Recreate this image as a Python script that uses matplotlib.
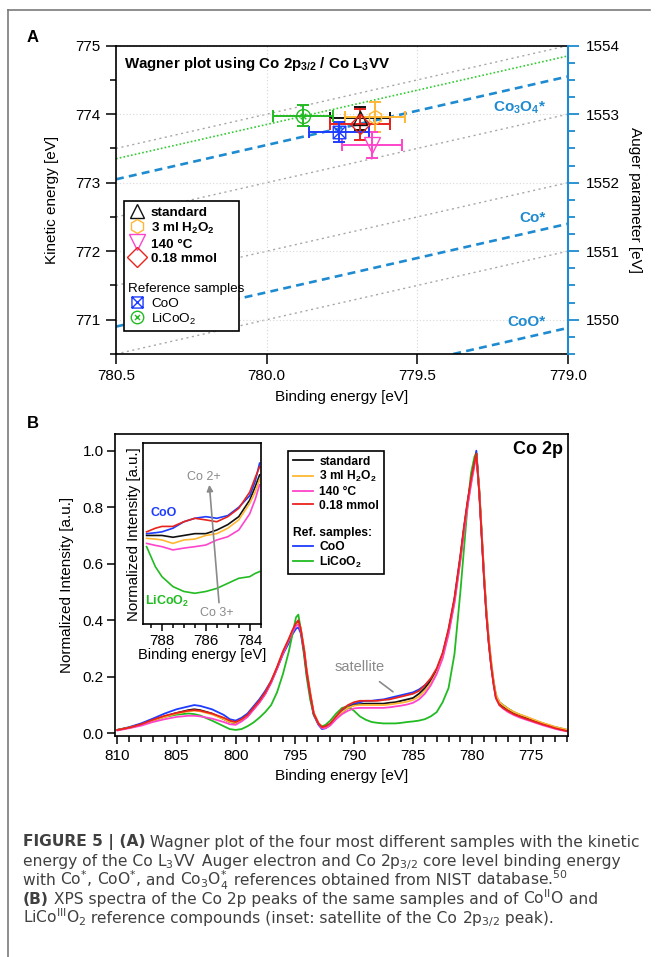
import re
import matplotlib
matplotlib.use("Agg")
import matplotlib.pyplot as plt
from matplotlib.lines import Line2D
from matplotlib.path import Path
from matplotlib.ticker import MultipleLocator

plt.rcParams['font.family'] = ['Liberation Sans', 'DejaVu Sans']
plt.rcParams['mathtext.default'] = 'regular'

W, H = 657, 957

# ---------------- Panel A data (Wagner plot) ----------------
samples = ['standard', '3 ml H$_2$O$_2$', '140 °C', '0.18 mmol']
refs = ['CoO', 'LiCoO$_2$']
pt_be = [779.69, 779.64, 779.65, 779.69, 779.76, 779.88]
pt_ke = [773.94, 773.96, 773.55, 773.85, 773.74, 773.98]
pt_xerr = [0.10, 0.10, 0.10, 0.10, 0.10, 0.10]
pt_yerr = [0.17, 0.22, 0.19, 0.22, 0.14, 0.15]
pt_colors = ['#111111', '#FFB733', '#FF44CC', '#E8231C', '#1E3CFF', '#22BB22']

# constant Auger-parameter lines: endpoints (BE, KE)
line_be = [780.5, 779.0]
gray_ke = [[770.5, 772.0], [771.5, 773.0], [772.5, 774.0], [773.5, 775.0]]
licoo2_ke = [773.35, 774.85]
co3o4_ke = [773.05, 774.55]
co_ke = [770.90, 772.40]
coo_be = [779.38, 779.0]
coo_ke = [770.50, 770.88]
ref_labels = ['Co$_3$O$_4$*', 'Co*', 'CoO*']
ref_label_ke = [774.10, 772.48, 770.96]

# ---------------- Panel B data (Co 2p spectra) ----------------
be = [810, 809, 808, 807, 806, 805, 804,
      803.5, 803, 802, 801, 800.5, 800,
      799.5, 799, 798.5, 798, 797.5, 797,
      796.5, 796, 795.5, 795.2, 794.9, 794.7,
      794.5, 794.2, 794, 793.7, 793.4, 793,
      792.7, 792.4, 792, 791.5, 791, 790.5,
      790, 789.5, 789, 788.5, 788, 787.5,
      787, 786.5, 786, 785.5, 785, 784.5,
      784, 783.5, 783, 782.5, 782, 781.5,
      781, 780.7, 780.4, 780.1, 779.8, 779.65,
      779.4, 779.2, 779, 778.8, 778.6, 778.4,
      778.2, 778, 777.7, 777.4, 777, 776.5,
      776, 775.5, 775, 774.5, 774, 773.5,
      773, 772.5, 772]
i_standard = [0.012, 0.02, 0.03, 0.045, 0.06, 0.072, 0.082,
              0.085, 0.082, 0.07, 0.05, 0.04, 0.035,
              0.045, 0.06, 0.085, 0.11, 0.14, 0.18,
              0.23, 0.285, 0.33, 0.36, 0.385, 0.395,
              0.37, 0.29, 0.22, 0.14, 0.07, 0.035,
              0.02, 0.02, 0.03, 0.055, 0.075, 0.09,
              0.1, 0.103, 0.105, 0.105, 0.105, 0.105,
              0.108, 0.11, 0.115, 0.12, 0.125, 0.14,
              0.16, 0.185, 0.22, 0.275, 0.36, 0.47,
              0.62, 0.72, 0.81, 0.89, 0.96, 0.99,
              0.85, 0.7, 0.55, 0.42, 0.32, 0.24,
              0.18, 0.13, 0.105, 0.095, 0.082, 0.07,
              0.062, 0.055, 0.048, 0.04, 0.033, 0.026,
              0.02, 0.015, 0.01]
i_h2o2 = [0.012, 0.02, 0.03, 0.045, 0.058, 0.07, 0.078,
          0.08, 0.078, 0.067, 0.05, 0.04, 0.036,
          0.046, 0.062, 0.087, 0.112, 0.142, 0.182,
          0.232, 0.287, 0.332, 0.362, 0.385, 0.39,
          0.375, 0.3, 0.23, 0.15, 0.075, 0.037,
          0.022, 0.022, 0.032, 0.055, 0.075, 0.09,
          0.098, 0.1, 0.1, 0.1, 0.1, 0.1,
          0.102, 0.105, 0.108, 0.112, 0.118, 0.13,
          0.15, 0.178, 0.215, 0.27, 0.355, 0.465,
          0.615, 0.715, 0.805, 0.885, 0.955, 0.985,
          0.865, 0.72, 0.57, 0.44, 0.34, 0.26,
          0.19, 0.14, 0.11, 0.1, 0.088, 0.076,
          0.067, 0.06, 0.052, 0.044, 0.036, 0.03,
          0.023, 0.018, 0.013]
i_140 = [0.01, 0.018, 0.027, 0.04, 0.05, 0.058, 0.062,
         0.062, 0.06, 0.052, 0.04, 0.032, 0.03,
         0.042, 0.058, 0.083, 0.108, 0.138, 0.178,
         0.228, 0.282, 0.328, 0.358, 0.38, 0.385,
         0.365, 0.29, 0.22, 0.14, 0.07, 0.033,
         0.018, 0.018, 0.028, 0.05, 0.068, 0.08,
         0.088, 0.09, 0.09, 0.09, 0.09, 0.09,
         0.092, 0.095, 0.098, 0.102, 0.108, 0.12,
         0.14, 0.17, 0.21, 0.265, 0.35, 0.46,
         0.61, 0.71, 0.8, 0.88, 0.95, 0.985,
         0.85, 0.7, 0.55, 0.42, 0.32, 0.24,
         0.175, 0.125, 0.1, 0.088, 0.076, 0.065,
         0.056, 0.049, 0.042, 0.035, 0.028, 0.022,
         0.016, 0.011, 0.007]
i_018 = [0.012, 0.02, 0.032, 0.048, 0.062, 0.072, 0.08,
         0.082, 0.08, 0.07, 0.055, 0.045, 0.04,
         0.05, 0.065, 0.09, 0.115, 0.145, 0.185,
         0.235, 0.29, 0.335, 0.365, 0.39, 0.4,
         0.37, 0.29, 0.22, 0.14, 0.07, 0.035,
         0.022, 0.025, 0.035, 0.06, 0.085, 0.1,
         0.11, 0.115, 0.115, 0.115, 0.115, 0.118,
         0.12, 0.125, 0.13, 0.135, 0.14, 0.15,
         0.17, 0.195, 0.23, 0.285, 0.37, 0.48,
         0.63, 0.73, 0.82, 0.9, 0.96, 0.99,
         0.85, 0.7, 0.55, 0.42, 0.32, 0.24,
         0.175, 0.125, 0.1, 0.09, 0.08, 0.068,
         0.06, 0.052, 0.045, 0.038, 0.031, 0.025,
         0.018, 0.013, 0.008]
i_coo = [0.012, 0.022, 0.035, 0.052, 0.07, 0.085, 0.095,
         0.1, 0.097, 0.085, 0.065, 0.05, 0.045,
         0.055, 0.07, 0.095, 0.12, 0.15, 0.185,
         0.23, 0.28, 0.32, 0.35, 0.37, 0.375,
         0.355, 0.28, 0.21, 0.13, 0.065, 0.03,
         0.015, 0.018, 0.03, 0.055, 0.08, 0.095,
         0.105, 0.11, 0.115, 0.115, 0.118, 0.12,
         0.125, 0.13, 0.135, 0.14, 0.145, 0.155,
         0.17, 0.19, 0.225, 0.28, 0.365, 0.475,
         0.625, 0.725, 0.815, 0.895, 0.965, 1.0,
         0.86, 0.71, 0.56, 0.43, 0.33, 0.25,
         0.185, 0.135, 0.11, 0.1, 0.088, 0.075,
         0.066, 0.058, 0.05, 0.042, 0.035, 0.028,
         0.022, 0.017, 0.012]
i_licoo2 = [0.012, 0.02, 0.03, 0.045, 0.058, 0.066, 0.07,
            0.068, 0.063, 0.045, 0.025, 0.015, 0.012,
            0.015, 0.025, 0.038, 0.055, 0.075, 0.1,
            0.145, 0.21, 0.29, 0.35, 0.41, 0.42,
            0.37, 0.27, 0.2, 0.12, 0.065, 0.035,
            0.025, 0.03, 0.045, 0.07, 0.09, 0.095,
            0.08, 0.06, 0.048, 0.04, 0.037, 0.035,
            0.035, 0.035, 0.037, 0.04, 0.042, 0.045,
            0.05, 0.06, 0.075, 0.11, 0.16, 0.28,
            0.5, 0.65, 0.8, 0.92, 0.98, 0.99,
            0.86, 0.71, 0.56, 0.43, 0.33, 0.25,
            0.185, 0.135, 0.11, 0.1, 0.088, 0.075,
            0.066, 0.058, 0.05, 0.042, 0.035, 0.028,
            0.022, 0.017, 0.012]

# inset (satellite region), relative units
in_be = [788.7, 788.3, 788, 787.5, 787, 786.5, 786, 785.5, 785, 784.5, 784, 783.75, 783.55]
in_standard = [0.49, 0.49, 0.49, 0.48, 0.49, 0.50, 0.50, 0.52, 0.55, 0.594, 0.686, 0.76, 0.825]
in_h2o2 = [0.474, 0.47, 0.465, 0.446, 0.465, 0.47, 0.49, 0.50, 0.53, 0.576, 0.668, 0.73, 0.80]
in_140 = [0.446, 0.435, 0.428, 0.41, 0.42, 0.428, 0.437, 0.465, 0.483, 0.52, 0.61, 0.69, 0.77]
in_018 = [0.51, 0.53, 0.54, 0.54, 0.566, 0.585, 0.576, 0.566, 0.594, 0.64, 0.73, 0.81, 0.87]
in_coo = [0.50, 0.505, 0.51, 0.53, 0.566, 0.585, 0.594, 0.585, 0.60, 0.646, 0.71, 0.79, 0.89]
in_licoo2 = [0.428, 0.317, 0.262, 0.207, 0.18, 0.17, 0.18, 0.197, 0.225, 0.253, 0.262, 0.28, 0.29]

spec_names = ['standard', '3 ml H$_2$O$_2$', '140 °C', '0.18 mmol', 'CoO', 'LiCoO$_2$']

# ---------------------------------------------------------------
BLUE = '#1E8BD0'
GRAY = '#8a8a8a'

def fx(px):
    return px / W

def fy(py):
    return 1 - py / H

fig = plt.figure(figsize=(W / 100, H / 100), dpi=100)

# figure frame (left and top)
fig.add_artist(Line2D([fx(7.5), fx(7.5)], [fy(10), 0], color='#7a7a7a', lw=1.2))
fig.add_artist(Line2D([fx(7.5), fx(650)], [fy(10), fy(10)], color='#7a7a7a', lw=1.2))

# ================= Panel A =================
axA = fig.add_axes([fx(116), fy(354), fx(567.7) - fx(116), fy(45.7) - fy(354)])
axA.set_xlim(780.5, 779.0)
axA.set_ylim(770.5, 775.0)
axA.xaxis.set_major_locator(MultipleLocator(0.5))
axA.yaxis.set_major_locator(MultipleLocator(1))
axA.yaxis.set_minor_locator(MultipleLocator(0.5))
axA.xaxis.set_major_formatter(matplotlib.ticker.FormatStrFormatter('%.1f'))
axA.grid(True, which='major', color='#d8d8d8', ls=(0, (1, 2)), lw=0.8)
axA.tick_params(axis='both', which='major', direction='out', length=7, width=1.1, labelsize=11, pad=4)
axA.tick_params(axis='y', which='minor', direction='out', length=4.5, width=1.1)
axA.tick_params(axis='y', right=False)
for s in ['left', 'bottom', 'top']:
    axA.spines[s].set_linewidth(1.2)
axA.spines['right'].set_visible(False)

for ke in gray_ke:
    axA.plot(line_be, ke, color='#a8a8a8', lw=1.0, ls=(0, (1.5, 2.5)), zorder=1)
axA.plot(line_be, licoo2_ke, color='#33CC33', lw=1.2, ls=(0, (1, 1.3)), zorder=1)
for xs, ys in [(line_be, co3o4_ke), (line_be, co_ke), (coo_be, coo_ke)]:
    axA.plot(xs, ys, color=BLUE, lw=1.9, ls=(0, (3, 2)), zorder=2)
for lab, ke in zip(ref_labels, ref_label_ke):
    axA.text(779.072, ke, lab, color=BLUE, fontsize=11, fontweight='bold', ha='right', va='center')

axA.text(0.018, 0.94, 'Wagner plot using Co 2p$_{3/2}$ / Co L$_3$VV', transform=axA.transAxes,
         fontsize=10.8, fontweight='bold', ha='left', va='center')

sq_x = Path([(-1, -1), (1, -1), (1, 1), (-1, 1), (-1, -1), (-1, -1), (1, 1), (-1, 1), (1, -1)],
            [Path.MOVETO, Path.LINETO, Path.LINETO, Path.LINETO, Path.CLOSEPOLY,
             Path.MOVETO, Path.LINETO, Path.MOVETO, Path.LINETO])
circ = Path.unit_circle()
xs_path = Path([(-0.4, -0.4), (0.4, 0.4), (-0.4, 0.4), (0.4, -0.4)],
               [Path.MOVETO, Path.LINETO, Path.MOVETO, Path.LINETO])
circ_x = Path.make_compound_path(circ, xs_path)
markers = ['^', 'h', 'v', 'D', sq_x, circ_x]
msizes = [10, 10, 11, 10, 9, 10]

for i in range(6):
    axA.errorbar(pt_be[i], pt_ke[i], xerr=pt_xerr[i], yerr=pt_yerr[i], fmt='none',
                 ecolor=pt_colors[i], elinewidth=1.4, capsize=4, capthick=1.4, zorder=4)
    axA.plot(pt_be[i], pt_ke[i], ls='none', marker=markers[i], ms=msizes[i], mfc='none',
             mec=pt_colors[i], mew=1.0, zorder=5)

handles = []
labels = []
for i in range(4):
    handles.append(Line2D([], [], ls='none', marker=markers[i], ms=msizes[i], mfc='none', mec=pt_colors[i], mew=1.0))
    labels.append(samples[i])
handles.append(Line2D([], [], ls='none'))
labels.append(' ')
handles.append(Line2D([], [], ls='none'))
labels.append(' ')
for i in range(4, 6):
    handles.append(Line2D([], [], ls='none', marker=markers[i], ms=msizes[i] - 1, mfc='none', mec=pt_colors[i], mew=1.0))
    labels.append(refs[i - 4])
legA = axA.legend(handles, labels, loc='upper left',
                  bbox_to_anchor=(fx(124), fy(332), fx(239) - fx(124), fy(201) - fy(332)),
                  mode='expand', bbox_transform=fig.transFigure, borderaxespad=0, fontsize=9.7,
                  frameon=True, fancybox=False, edgecolor='black', framealpha=1,
                  handlelength=1.2, handletextpad=0.45, borderpad=0.35, labelspacing=0.12,
                  handleheight=0.9)
legA.get_frame().set_linewidth(1.2)
for j, t in enumerate(legA.get_texts()):
    if j < 4:
        t.set_fontweight('bold')
fig.text(fx(128), fy(289), 'Reference samples', fontsize=9.7, ha='left', va='center', zorder=10)

axA.set_xlabel('Binding energy [eV]', fontsize=11, labelpad=5)
axA.set_ylabel('Kinetic energy [eV]', fontsize=11, labelpad=12)

axA2 = axA.twinx()
axA2.set_ylim(1549.5, 1554.0)
axA2.yaxis.set_major_locator(MultipleLocator(1))
axA2.yaxis.set_minor_locator(MultipleLocator(0.25))
for s in ['left', 'bottom', 'top']:
    axA2.spines[s].set_visible(False)
axA2.spines['right'].set_color(BLUE)
axA2.spines['right'].set_linewidth(1.5)
axA2.tick_params(axis='y', which='major', direction='out', length=8, width=1.3, colors=BLUE,
                 labelcolor='black', labelsize=11, pad=5)
axA2.tick_params(axis='y', which='minor', direction='out', length=5, width=1.3, colors=BLUE)
axA2.set_ylabel('Auger parameter [eV]', fontsize=11, rotation=270, labelpad=16)

fig.text(fx(33), fy(37), 'A', fontsize=12, fontweight='bold', ha='center', va='center')

# ================= Panel B =================
axB = fig.add_axes([fx(115), fy(736), fx(568) - fx(115), fy(434.3) - fy(736)])
axB.set_xlim(810.2, 771.9)
axB.set_ylim(-0.0095, 1.058)
axB.xaxis.set_major_locator(MultipleLocator(5))
axB.xaxis.set_minor_locator(MultipleLocator(1))
axB.yaxis.set_major_locator(MultipleLocator(0.2))
axB.yaxis.set_major_formatter(matplotlib.ticker.FormatStrFormatter('%.1f'))
axB.tick_params(axis='both', which='major', direction='out', length=6, width=1.1, labelsize=11)
axB.tick_params(axis='x', which='minor', direction='out', length=4, width=1.1)
axB.tick_params(axis='y', pad=2)
for s in axB.spines.values():
    s.set_linewidth(1.2)

spec_y = [i_standard, i_h2o2, i_140, i_018, i_coo, i_licoo2]
spec_c = ['#111111', '#FFB733', '#FF44CC', '#E8231C', '#1E3CFF', '#22BB22']
order = [4, 5, 0, 1, 2, 3]
lines_B = {}
for k in order:
    ln, = axB.plot(be, spec_y[k], color=spec_c[k], lw=1.3)
    lines_B[k] = ln

axB.set_xlabel('Binding energy [eV]', fontsize=11, labelpad=4)
axB.set_ylabel('Normalized Intensity [a.u.]', fontsize=11, labelpad=6)
axB.text(0.99, 0.95, 'Co 2p', transform=axB.transAxes, fontsize=13, fontweight='bold',
         ha='right', va='center')
axB.annotate('satellite', xy=(786.7, 0.147), xytext=(789.5, 0.235), color=GRAY, fontsize=10.5,
             ha='center', va='center',
             arrowprops=dict(arrowstyle='-', color=GRAY, lw=1.2, shrinkA=6, shrinkB=0))

hB = [lines_B[k] for k in range(4)] + [Line2D([], [], ls='none'), Line2D([], [], ls='none')] + \
     [lines_B[4], lines_B[5]]
lB = spec_names[:4] + [' ', ' '] + spec_names[4:]
legB = axB.legend(hB, lB, loc='upper left',
                  bbox_to_anchor=(fx(288), fy(574), fx(384) - fx(288), fy(450.7) - fy(574)),
                  mode='expand', bbox_transform=fig.transFigure, borderaxespad=0, fontsize=8.7,
                  frameon=True, fancybox=False, edgecolor='black', framealpha=1,
                  handlelength=1.7, handletextpad=0.5, borderpad=0.4, labelspacing=0.14)
legB.get_frame().set_linewidth(1.2)
for t in legB.get_texts():
    t.set_fontweight('bold')
fig.text(fx(293.3), fy(533), 'Ref. samples:', fontsize=8.7, fontweight='bold', ha='left',
         va='center', zorder=10)

fig.text(fx(33), fy(423), 'B', fontsize=12, fontweight='bold', ha='center', va='center')

# inset
axI = fig.add_axes([fx(143.3), fy(624), fx(260.7) - fx(143.3), fy(443.3) - fy(624)])
axI.set_facecolor('white')
axI.set_xlim(788.85, 783.5)
axI.set_ylim(0, 1)
axI.xaxis.set_major_locator(MultipleLocator(2))
axI.xaxis.set_minor_locator(MultipleLocator(0.5))
axI.set_yticks([])
axI.tick_params(axis='x', which='major', direction='out', length=5, width=1.1, labelsize=11, pad=2)
axI.tick_params(axis='x', which='minor', direction='out', length=3, width=1.1)
for s in axI.spines.values():
    s.set_linewidth(1.2)
in_y = [in_standard, in_h2o2, in_140, in_018, in_coo, in_licoo2]
for k in order:
    axI.plot(in_be, in_y[k], color=spec_c[k], lw=1.2)
axI.set_xlabel('Binding energy [eV]', fontsize=10.5, labelpad=0)
axI.set_ylabel('Normalized Intensity [a.u.]', fontsize=10.8, labelpad=2)
axI.annotate('', xy=(785.84, 0.77), xytext=(785.40, 0.118),
             arrowprops=dict(arrowstyle='-|>', color=GRAY, lw=1.2, mutation_scale=9, shrinkA=0, shrinkB=0))
axI.text(786.11, 0.815, 'Co 2+', color=GRAY, fontsize=9, ha='center', va='center')
axI.text(785.5, 0.06, 'Co 3+', color=GRAY, fontsize=9, ha='center', va='center')
axI.text(787.92, 0.613, 'CoO', color='#1E3CFF', fontsize=9, fontweight='bold', ha='center', va='center')
axI.text(788.75, 0.124, 'LiCoO$_2$', color='#22BB22', fontsize=9, fontweight='bold', ha='left', va='center')

# ================= Caption =================
cap_lines = [
    [('FIGURE 5 | (A)', 'bold'), (' Wagner plot of the four most different samples with the kinetic', 'normal')],
    [('energy of the Co L$_3$VV Auger electron and Co 2p$_{3/2}$ core level binding energy', 'normal')],
    [('with Co$^{*}$, CoO$^{*}$, and Co$_3$O$_4^{*}$ references obtained from NIST database.$^{50}$', 'normal')],
    [('(B)', 'bold'), (' XPS spectra of the Co 2p peaks of the same samples and of Co$^{II}$O and', 'normal')],
    [('LiCo$^{III}$O$_2$ reference compounds (inset: satellite of the Co 2p$_{3/2}$ peak).', 'normal')],
]
cap_y = [846.5, 866.0, 885.0, 904.0, 923.0]
renderer = fig.canvas.get_renderer()


def segments(s):
    # split into runs of plain text and single words that contain math
    out = []
    buf = ''
    for tok in re.split(r'(\s+)', s):
        if '$' in tok:
            if buf:
                out.append(buf)
                buf = ''
            out.append(tok)
        else:
            buf += tok
    if buf:
        out.append(buf)
    return out


for parts, yb in zip(cap_lines, cap_y):
    xpos = 22.7
    for s, w in parts:
        for seg in segments(s):
            t = fig.text(fx(xpos), fy(yb), seg, fontsize=11.2, fontweight=w, color='#404040',
                         family=['DejaVu Sans'], ha='left', va='baseline')
            bb = t.get_window_extent(renderer=renderer)
            xpos += bb.width

fig.savefig('out.png', dpi=100)
